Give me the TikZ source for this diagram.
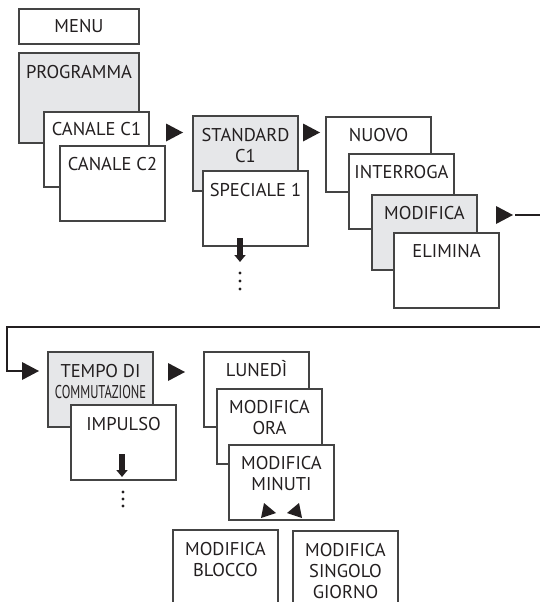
\documentclass[tikz,border=0pt]{standalone}
\usepackage{fontspec}
\setmainfont{PT Sans}
\usepackage{graphicx}
\usetikzlibrary{calc,arrows.meta}
\definecolor{boxgrey}{HTML}{E6E7E9}
\definecolor{edgecol}{HTML}{444444}
\definecolor{ink}{HTML}{231F20}
\begin{document}
\begin{tikzpicture}[x=1pt,y=-1pt,
  menubox/.style={draw=edgecol, line width=1.1pt, fill=white, inner sep=0pt, outer sep=0pt,
    anchor=north west, minimum width=105pt, minimum height=75pt},
  greybox/.style={menubox, fill=boxgrey},
  lbl/.style={anchor=base, align=center, inner sep=0pt, text=ink,
    font=\fontsize{18.5}{21}\selectfont},
  conn/.style={draw=ink, line width=2.4pt},
  downarrow/.style={draw=ink, line width=5.5pt, -{Triangle[width=11pt,length=7pt]}},
  rtri/.pic={\fill[ink] (-17,-9) -- (0,0) -- (-17,9) -- cycle;},
]
\path[use as bounding box, clip] (0,0) rectangle (540,602);

% column 1
\node[menubox, minimum width=120pt, minimum height=35pt] (menu) at (19,9) {};
\node[lbl] at ($(menu.north)+(0,24)$) {MENU};
\node[greybox, minimum width=120pt, minimum height=90pt] (prog) at (19,53) {};
\node[lbl] at ($(prog.north)+(0,25)$) {PROGRAMMA};
\node[menubox] (c1) at (44,112) {};
\node[lbl] at ($(c1.north)+(0,23)$) {CANALE C1};
\node[menubox] (c2) at (60,146) {};
\node[lbl] at ($(c2.north)+(0,24)$) {CANALE C2};

% column 2 (two-line labels: anchor on last baseline)
\node[greybox] (std) at (193,116) {};
\node[lbl] at ($(std.north)+(0,46)$) {STANDARD\\C1};
\node[menubox] (spec) at (203,171) {};
\node[lbl] at ($(spec.north)+(0,25)$) {SPECIALE 1};

% column 3
\node[menubox] (nuovo) at (326,117) {};
\node[lbl] at ($(nuovo.north)+(0,24)$) {NUOVO};
\node[menubox] (interr) at (349,154) {};
\node[lbl] at ($(interr.north)+(0,24)$) {INTERROGA};
\node[greybox] (modif) at (372,195) {};
\node[lbl] at ($(modif.north)+(0,24)$) {MODIFICA};
\node[menubox] (elim) at (394,233) {};
\node[lbl] at ($(elim.north)+(0,24)$) {ELIMINA};

% row 2
\node[greybox] (tempo) at (48,352) {};
\node[lbl] at ($(tempo.north)+(0,46)$) {TEMPO DI\\\scalebox{0.68}[1]{COMMUTAZIONE}};
\node[menubox] (impulso) at (71,405) {};
\node[lbl] at ($(impulso.north)+(0,25)$) {IMPULSO};

\node[menubox] (lunedi) at (204,352) {};
\node[lbl] at ($(lunedi.north)+(0,24)$) {LUNEDÌ};
\node[menubox] (ora) at (217,389) {};
\node[lbl] at ($(ora.north)+(0,45)$) {MODIFICA\\ORA};
\node[menubox] (minuti) at (229,445) {};
\node[lbl] at ($(minuti.north)+(0,45)$) {MODIFICA\\MINUTI};

\node[menubox] (blocco) at (173,530) {};
\node[lbl] at ($(blocco.north)+(0,46)$) {MODIFICA\\BLOCCO};
\node[menubox] (singolo) at (293,531) {};
\node[lbl] at ($(singolo.north)+(0,67)$) {MODIFICA\\SINGOLO\\GIORNO};

% triangles
\pic at (183,132.5) {rtri};
\pic at (320,132.5) {rtri};
\coordinate (m4) at (513,215);
\pic at (m4) {rtri};
\coordinate (t5) at (39,371);
\pic at (t5) {rtri};
\pic at (185,372) {rtri};

% loop connector
\coordinate (r1) at (560,215);
\coordinate (r2) at (560,327);
\coordinate (l1) at (7,327);
\coordinate (l2) at (7,371);
\coordinate (t5base) at (22,371);
\draw[conn] ($(m4)+(2,0)$) -- (r1) -- (r2) -- (l1) -- (l2) -- (t5base);

% down arrows and dots
\coordinate (d1s) at (240,238);
\coordinate (d1e) at (240,262);
\draw[downarrow] (d1s) -- (d1e);
\foreach \yy in {273,281,289} \fill[ink] (240,\yy) circle (1.6);
\coordinate (d2s) at (122,454);
\coordinate (d2e) at (122,477);
\draw[downarrow] (d2s) -- (d2e);
\foreach \yy in {492,499,506} \fill[ink] (123,\yy) circle (1.6);

% small triangles under MINUTI
\fill[ink] (264,503) -- (261,518) -- (276,513) -- cycle;
\fill[ink] (299,503) -- (302,518) -- (287,513) -- cycle;
\end{tikzpicture}
\end{document}
